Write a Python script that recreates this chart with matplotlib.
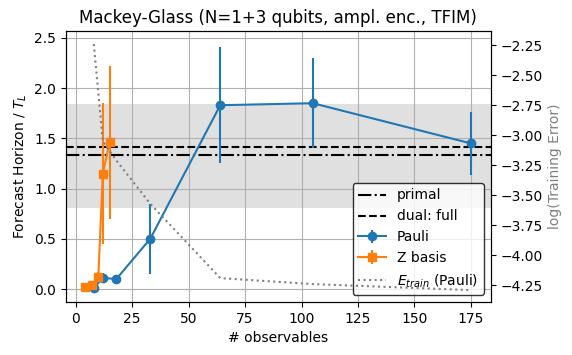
import matplotlib
matplotlib.use("Agg")
import matplotlib.pyplot as plt
import numpy as np

# Data
pauli_x = [8, 12, 18, 33, 64, 105, 175]
pauli_y = [0.01, 0.11, 0.10, 0.50, 1.83, 1.85, 1.45]
pauli_err = [0.02, 0.05, 0.03, 0.35, 0.58, 0.45, 0.31]

z_x = [4, 7, 10, 12, 15]
z_y = [0.02, 0.04, 0.12, 1.15, 1.46]
z_err = [0.01, 0.02, 0.05, 0.70, 0.76]

etrain_y = [-2.24, -3.05, -3.21, -3.57, -4.19, -4.24, -4.29]

primal = 1.33
primal_lo = 0.81
primal_hi = 1.84
dual_full = 1.41

right_ticks = [-4.25, -4.0, -3.75, -3.5, -3.25, -3.0, -2.75, -2.5, -2.25]

fig = plt.figure(figsize=(5.72, 3.55), dpi=100)
ax = fig.add_axes([0.115, 0.149, 0.743, 0.764])
ax2 = ax.twinx()

ax.axhspan(primal_lo, primal_hi, color='0.85', alpha=0.8, lw=0, zorder=0)
l1 = ax.axhline(primal, color='k', ls='-.', label='primal')
l2 = ax.axhline(dual_full, color='k', ls='--', label='dual: full')
e1 = ax.errorbar(pauli_x, pauli_y, yerr=pauli_err, marker='o', color='C0', label='Pauli')
e2 = ax.errorbar(z_x, z_y, yerr=z_err, marker='s', color='C1', label='Z basis')
l3, = ax2.plot(pauli_x, etrain_y, ls=':', color='gray', label=r'$E_{train}$ (Pauli)')

ax.set_xlim(-4.4, 183.8)
ax.set_ylim(-0.13, 2.57)
ax2.set_ylim(-4.39, -2.13)
ax2.set_yticks(right_ticks)
ax.grid(True)
ax.set_axisbelow(True)
ax.set_xlabel('# observables')
ax.set_ylabel('Forecast Horizon / $T_L$')
ax2.set_ylabel('log(Training Error)', color='gray')
ax.set_title('Mackey-Glass (N=1+3 qubits, ampl. enc., TFIM)')

ax.legend([l1, l2, e1, e2, l3], [h.get_label() for h in [l1, l2, e1, e2, l3]],
          loc='lower right', framealpha=0.8, edgecolor='black')

fig.savefig('out.png', dpi=100)
